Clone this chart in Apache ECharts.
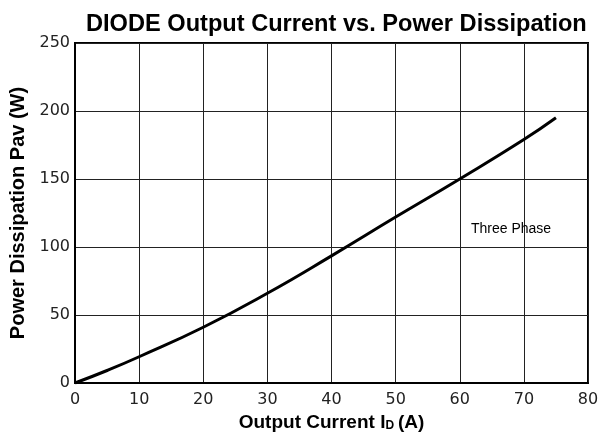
<!DOCTYPE html>
<html>
<head>
<meta charset="utf-8">
<script src="https://cdn.jsdelivr.net/npm/echarts@6/dist/echarts.min.js"></script>
<style>html,body{margin:0;padding:0;background:#fff}#c{width:608px;height:434px}</style>
</head>
<body>
<div id="c"></div>
<script>
var currentA = [0, 5, 10, 20, 30, 40, 50, 60, 70, 75];
var powerW = [0, 9.2, 19.3, 41, 66, 93.5, 122, 150, 179, 195];
var xTicks = [0, 10, 20, 30, 40, 50, 60, 70, 80];
var yTicks = [0, 50, 100, 150, 200, 250];
var seriesName = 'Three Phase';
var labelPos = [68, 113];

var data = currentA.map(function (x, i) { return [x, powerW[i]]; });
var chart = echarts.init(document.getElementById('c'), null, {renderer: 'canvas'});
var tickFont = 'DejaVu Sans';
chart.setOption({
  animation: false,
  backgroundColor: '#fff',
  title: {
    text: 'DIODE Output Current vs. Power Dissipation',
    left: 81, top: 7,
    textStyle: {fontFamily: 'Liberation Sans', fontSize: 23.6, fontWeight: 'bold', color: '#000'}
  },
  grid: {left: 75, right: 20, top: 43, bottom: 51, show: true, borderColor: '#000', borderWidth: 2,
    outerBoundsMode: 'none', containLabel: false},
  xAxis: {
    type: 'value', min: xTicks[0], max: xTicks[xTicks.length - 1], interval: 10,
    name: 'Output Current I{sub|D}\u2009(A)', nameLocation: 'middle', nameGap: 22,
    nameTextStyle: {fontFamily: 'Liberation Sans', fontSize: 19, fontWeight: 'bold', color: '#000', verticalAlign: 'top',
      rich: {sub: {fontFamily: 'Liberation Sans', fontSize: 12, fontWeight: 'bold', color: '#000', verticalAlign: 'bottom', padding: [5, 0, 0, 0]}}},
    axisLine: {lineStyle: {color: '#000', width: 2}},
    axisTick: {show: false},
    axisLabel: {fontFamily: tickFont, fontSize: 16, color: '#222', margin: 9},
    splitLine: {show: true, lineStyle: {color: '#222', width: 1}}
  },
  yAxis: {
    type: 'value', min: yTicks[0], max: yTicks[yTicks.length - 1], interval: 50,
    name: 'Power Dissipation Pav (W)', nameLocation: 'middle', nameGap: 29,
    nameTextStyle: {fontFamily: 'Liberation Sans', fontSize: 20, fontWeight: 'bold', color: '#000'},
    axisLine: {lineStyle: {color: '#000', width: 2}},
    axisTick: {show: false},
    axisLabel: {fontFamily: tickFont, fontSize: 16, color: '#222', margin: 5},
    splitLine: {show: true, lineStyle: {color: '#222', width: 1}}
  },
  series: [{
    type: 'line', name: seriesName, data: data, smooth: true, symbol: 'none',
    lineStyle: {color: '#000', width: 3},
    markPoint: {
      symbol: 'rect', symbolSize: 1, itemStyle: {color: 'rgba(0,0,0,0)'},
      label: {show: true, formatter: seriesName, fontFamily: 'Liberation Sans', fontSize: 14, color: '#000', position: 'inside'},
      data: [{coord: labelPos}]
    }
  }]
});
</script>
</body>
</html>
